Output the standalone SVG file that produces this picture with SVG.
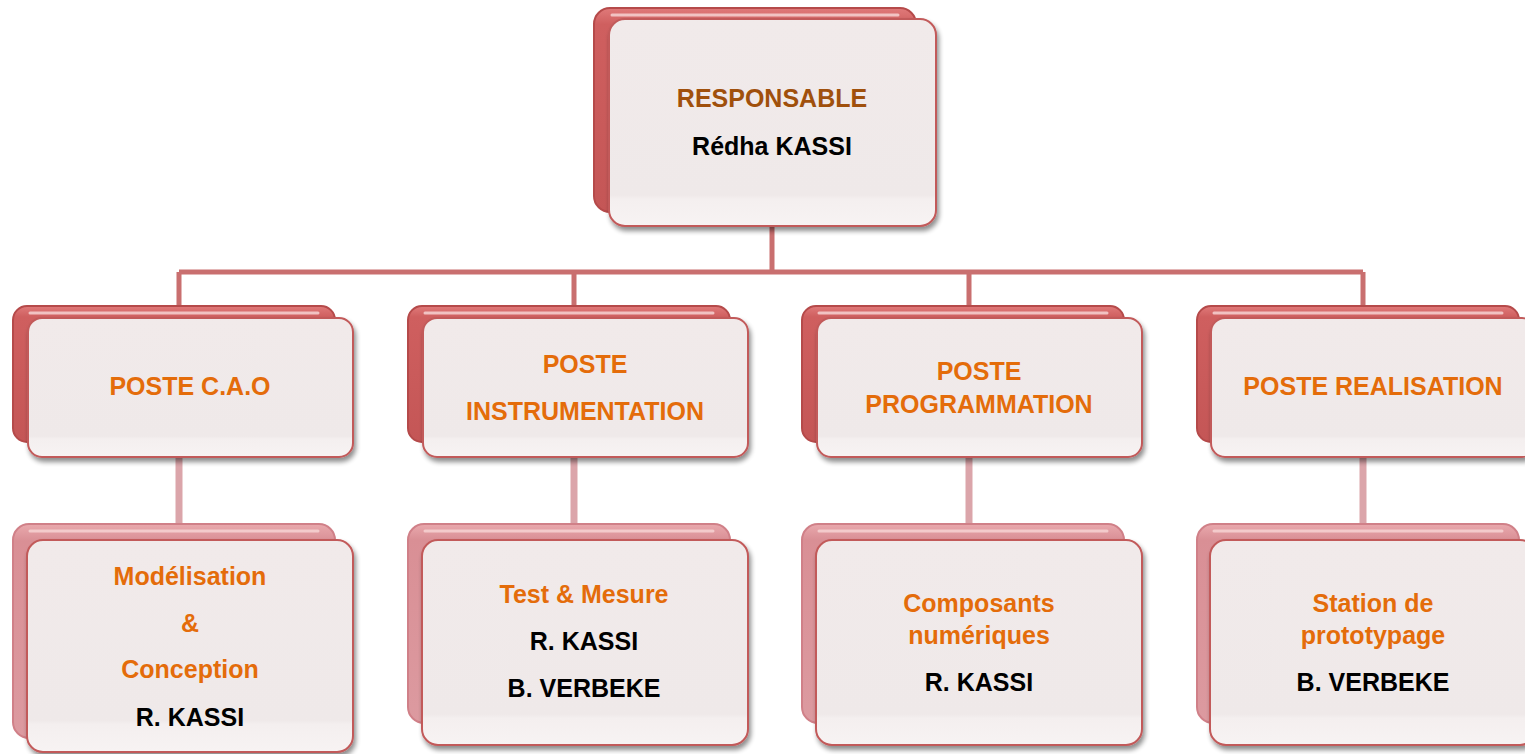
<svg xmlns="http://www.w3.org/2000/svg" width="1525" height="754" viewBox="0 0 1525 754">
<defs>
<linearGradient id="backRed" x1="0" y1="0" x2="0" y2="1">
<stop offset="0" stop-color="#e07a7a"/><stop offset="0.08" stop-color="#cf5f5f"/><stop offset="1" stop-color="#c45656"/>
</linearGradient>
<linearGradient id="backPink" x1="0" y1="0" x2="0" y2="1">
<stop offset="0" stop-color="#e9a9ad"/><stop offset="0.08" stop-color="#d98f95"/><stop offset="1" stop-color="#dc9aa0"/>
</linearGradient>
<linearGradient id="front" x1="0" y1="0" x2="0" y2="1">
<stop offset="0" stop-color="#f1eaea"/><stop offset="0.85" stop-color="#efe9e9"/><stop offset="0.87" stop-color="#f4efef"/><stop offset="1" stop-color="#f7f3f3"/>
</linearGradient>
<filter id="sh" x="-10%" y="-10%" width="125%" height="130%">
<feGaussianBlur in="SourceAlpha" stdDeviation="2.5"/>
<feOffset dx="2" dy="4" result="b"/>
<feComponentTransfer><feFuncA type="linear" slope="0.45"/></feComponentTransfer>
<feMerge><feMergeNode/><feMergeNode in="SourceGraphic"/></feMerge>
</filter>
</defs>
<style>
.back{fill:url(#backRed);stroke:#b54a4a;stroke-width:2}
.backp{fill:url(#backPink);stroke:#d08088;stroke-width:2}
.hl{fill:none;stroke:#f6d2d2;stroke-width:3;stroke-linecap:round;opacity:0.85}
.frontbox{fill:url(#front);stroke:#c25a5a;stroke-width:2;filter:url(#sh)}
.c1{stroke:#c96f6f;stroke-width:5;fill:none}
.c2{stroke:#dba5aa;stroke-width:7;fill:none}
text{font-family:"Liberation Sans",Arial,sans-serif;font-weight:bold;font-size:25px;text-anchor:middle}
.o{fill:#e46c0a}
.br{fill:#a0500c}
.k{fill:#000}
</style>
<g id="connectors">
<path class="c1" d="M772 215V272M179 272H1363M179 272V306M574 272V306M969 272V306M1363 272V306"/>
<path class="c2" d="M179 445V524M574 445V524M969 445V524M1363 445V524"/>
</g>
<g id="n-responsable">
<rect class="back" x="594" y="8" width="322" height="204" rx="16"/>
<path class="hl" d="M612 15H898"/>
<rect class="frontbox" x="609" y="19" width="327" height="207" rx="16"/>
<text class="br" x="772" y="107">RESPONSABLE</text>
<text class="k" x="772" y="155">Rédha KASSI</text>
</g>
<g id="n-cao">
<rect class="back" x="13" y="306" width="322" height="136" rx="14"/>
<path class="hl" d="M30 313H318"/>
<rect class="frontbox" x="28" y="318" width="325" height="139" rx="14"/>
<text class="o" x="190" y="395">POSTE C.A.O</text>
</g>
<g id="n-instr">
<rect class="back" x="408" y="306" width="322" height="136" rx="14"/>
<path class="hl" d="M425 313H713"/>
<rect class="frontbox" x="423" y="318" width="325" height="139" rx="14"/>
<text class="o" x="585" y="373">POSTE</text>
<text class="o" x="585" y="420">INSTRUMENTATION</text>
</g>
<g id="n-prog">
<rect class="back" x="802" y="306" width="322" height="136" rx="14"/>
<path class="hl" d="M819 313H1107"/>
<rect class="frontbox" x="817" y="318" width="325" height="139" rx="14"/>
<text class="o" x="979" y="380">POSTE</text>
<text class="o" x="979" y="413">PROGRAMMATION</text>
</g>
<g id="n-real">
<rect class="back" x="1197" y="306" width="322" height="136" rx="14"/>
<path class="hl" d="M1214 313H1502"/>
<rect class="frontbox" x="1211" y="318" width="325" height="139" rx="14"/>
<text class="o" x="1373" y="395">POSTE REALISATION</text>
</g>
<g id="n-model">
<rect class="backp" x="13" y="524" width="322" height="214" rx="16"/>
<path class="hl" d="M30 531H318"/>
<rect class="frontbox" x="27" y="540" width="326" height="212" rx="16"/>
<text class="o" x="190" y="585">Modélisation</text>
<text class="o" x="190" y="632">&amp;</text>
<text class="o" x="190" y="678">Conception</text>
<text class="k" x="190" y="726">R. KASSI</text>
</g>
<g id="n-test">
<rect class="backp" x="408" y="524" width="322" height="199" rx="16"/>
<path class="hl" d="M425 531H713"/>
<rect class="frontbox" x="422" y="540" width="326" height="205" rx="16"/>
<text class="o" x="584" y="603">Test &amp; Mesure</text>
<text class="k" x="584" y="650">R. KASSI</text>
<text class="k" x="584" y="697">B. VERBEKE</text>
</g>
<g id="n-comp">
<rect class="backp" x="802" y="524" width="322" height="199" rx="16"/>
<path class="hl" d="M819 531H1107"/>
<rect class="frontbox" x="816" y="540" width="326" height="205" rx="16"/>
<text class="o" x="979" y="612">Composants</text>
<text class="o" x="979" y="644">numériques</text>
<text class="k" x="979" y="691">R. KASSI</text>
</g>
<g id="n-station">
<rect class="backp" x="1197" y="524" width="322" height="199" rx="16"/>
<path class="hl" d="M1214 531H1502"/>
<rect class="frontbox" x="1210" y="540" width="326" height="205" rx="16"/>
<text class="o" x="1373" y="612">Station de</text>
<text class="o" x="1373" y="644">prototypage</text>
<text class="k" x="1373" y="691">B. VERBEKE</text>
</g>
</svg>
